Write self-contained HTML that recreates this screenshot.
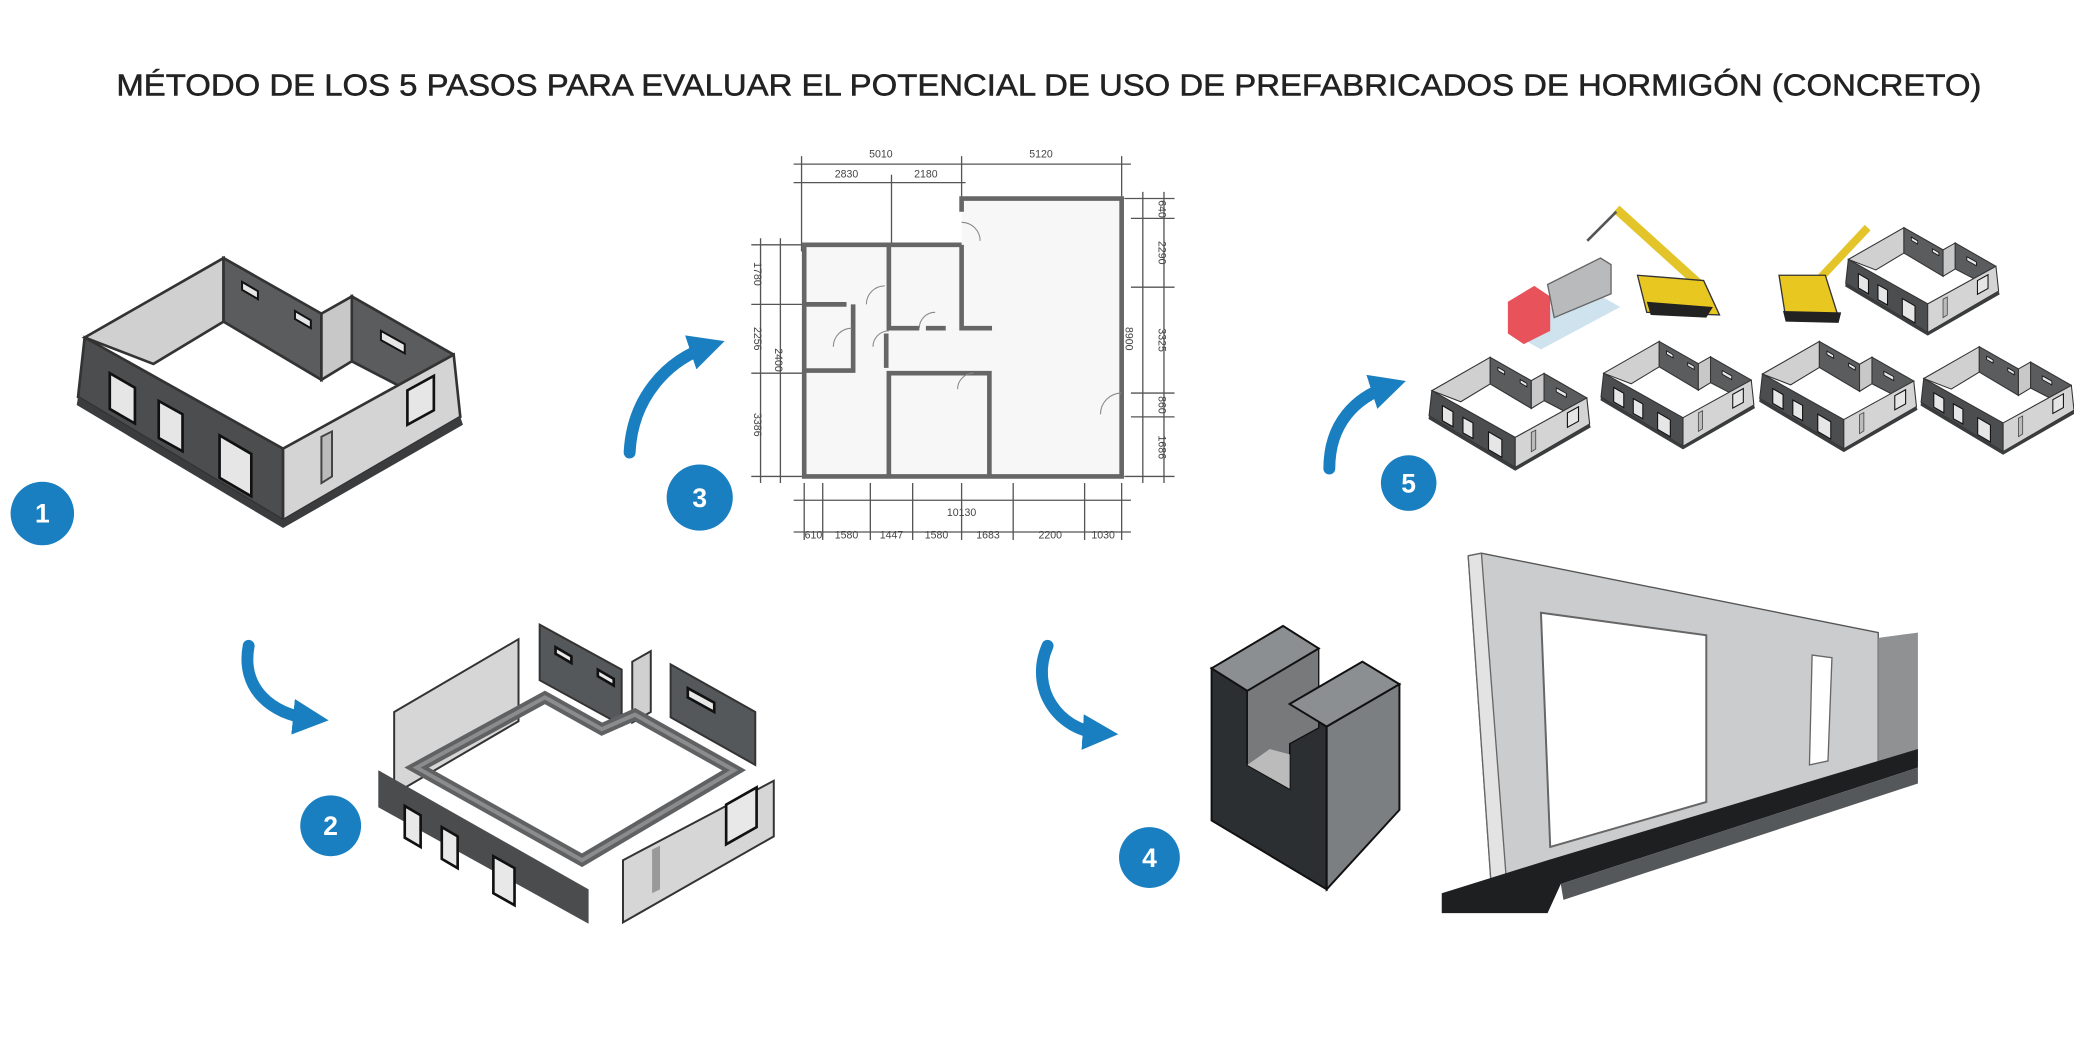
<!DOCTYPE html>
<html><head><meta charset="utf-8"><style>
html,body{margin:0;padding:0;background:#fff;}
svg{display:block;}
</style></head><body>
<svg width="2074" height="1064" viewBox="0 0 1568 804" preserveAspectRatio="none" xmlns="http://www.w3.org/2000/svg" font-family="Liberation Sans, sans-serif">
<defs>
<marker id="ah" viewBox="0 0 10 10" refX="5" refY="5" markerWidth="3" markerHeight="3" orient="auto"><path d="M0,0 L10,5 L0,10 z" fill="#1a7fc1"/></marker>
<g id="house">
  <polygon points="6,60 111,0 111,48 58,80" fill="#d0d0d0" stroke="#333" stroke-width="2"/>
  <polygon points="111,0 185,42 185,92 111,48" fill="#5a5c5e" stroke="#333" stroke-width="2"/>
  <polygon points="185,42 208,29 208,78 185,92" fill="#c8c8c8" stroke="#333" stroke-width="2"/>
  <polygon points="208,29 285,73 285,118 208,78" fill="#5a5c5e" stroke="#333" stroke-width="2"/>
  <polygon points="1,105 6,60 156,144 156,198" fill="#4b4d4f" stroke="#333" stroke-width="2"/>
  <polygon points="156,144 285,73 290,120 156,198" fill="#d4d4d4" stroke="#333" stroke-width="2"/>
  <polygon points="1,105 156,198 290,120 292,126 156,204 0,111" fill="#3a3c3d"/>
  <polygon points="25,87 44,98 44,125 25,114" fill="#e6e6e6" stroke="#111" stroke-width="2"/>
  <polygon points="62,108 80,118 80,146 62,136" fill="#e6e6e6" stroke="#111" stroke-width="2"/>
  <polygon points="108,134 132,148 132,180 108,166" fill="#e6e6e6" stroke="#111" stroke-width="2"/>
  <polygon points="185,135 193,131 193,165 185,170" fill="#bbb" stroke="#444" stroke-width="1.5"/>
  <polygon points="250,100 270,89 270,115 250,126" fill="#e6e6e6" stroke="#111" stroke-width="2"/>
  <polygon points="125,18 137,25 137,31 125,24" fill="#e6e6e6" stroke="#111" stroke-width="1.5"/>
  <polygon points="165,40 177,47 177,53 165,46" fill="#e6e6e6" stroke="#111" stroke-width="1.5"/>
  <polygon points="230,55 248,65 248,72 230,62" fill="#e6e6e6" stroke="#111" stroke-width="1.5"/>
</g>
</defs>

<text x="88" y="72" font-size="23" fill="#222" stroke="#222" stroke-width="0.4" textLength="1410" lengthAdjust="spacingAndGlyphs">MÉTODO DE LOS 5 PASOS PARA EVALUAR EL POTENCIAL DE USO DE PREFABRICADOS DE HORMIGÓN (CONCRETO)</text>

<!-- Step 1 building -->
<use href="#house" transform="translate(58,195)"/>

<!-- Step 2 exploded -->
<g stroke="#333" stroke-width="1.5">
  <polygon points="298,538 392,483 392,545 298,600" fill="#d6d6d6"/>
  <polygon points="408,472 470,506 470,548 408,514" fill="#55585a"/>
  <polygon points="478,500 492,492 492,538 478,546" fill="#d0d0d0"/>
  <polygon points="507,502 571,538 571,578 507,542" fill="#55585a"/>
  <polygon points="471,650 585,590 585,632 471,697" fill="#d6d6d6"/>
</g>
<polygon points="286,582 445,672 445,698 286,610" fill="#4a4c4e"/>
<g fill="#e8e8e8" stroke="#111" stroke-width="2">
  <polygon points="306,609 318,616 318,640 306,633"/>
  <polygon points="334,625 346,632 346,656 334,649"/>
  <polygon points="373,647 389,656 389,684 373,675"/>
  <polygon points="549,608 572,595 572,625 549,638"/>
  <polygon points="420,489 432,496 432,501 420,494"/>
  <polygon points="452,506 464,513 464,518 452,511"/>
  <polygon points="520,520 540,531 540,538 520,527"/>
</g>
<polygon points="493,642 499,639 499,672 493,675" fill="#999"/>
<path d="M315,580 L412,527 L455,551 L480,540 L555,582 L440,650 Z" fill="none" stroke="#5f6163" stroke-width="9" stroke-linejoin="miter"/>
<path d="M315,580 L412,527 L455,551 L480,540 L555,582 L440,650 Z" fill="none" stroke="#8a8c8e" stroke-width="3"/>

<!-- Step 3 floor plan -->
<g stroke="#555" stroke-width="1" fill="none">
  <line x1="600" y1="124" x2="855" y2="124"/><line x1="600" y1="138" x2="730" y2="138"/>
  <line x1="606" y1="118" x2="606" y2="190"/><line x1="727" y1="118" x2="727" y2="150"/><line x1="848" y1="118" x2="848" y2="150"/>
  <line x1="674" y1="132" x2="674" y2="185"/>
  <line x1="575" y1="180" x2="575" y2="365"/><line x1="590" y1="180" x2="590" y2="365"/>
  <line x1="568" y1="185" x2="608" y2="185"/><line x1="568" y1="230" x2="608" y2="230"/><line x1="568" y1="282" x2="608" y2="282"/><line x1="568" y1="360" x2="608" y2="360"/>
  <line x1="864" y1="145" x2="864" y2="365"/><line x1="880" y1="145" x2="880" y2="365"/>
  <line x1="850" y1="150" x2="888" y2="150"/><line x1="855" y1="165" x2="888" y2="165"/><line x1="855" y1="217" x2="888" y2="217"/><line x1="855" y1="297" x2="888" y2="297"/><line x1="855" y1="315" x2="888" y2="315"/><line x1="850" y1="360" x2="888" y2="360"/>
  <line x1="600" y1="378" x2="855" y2="378"/><line x1="600" y1="402" x2="855" y2="402"/>
  <line x1="608" y1="365" x2="608" y2="408"/><line x1="622" y1="365" x2="622" y2="408"/><line x1="658" y1="365" x2="658" y2="408"/><line x1="690" y1="365" x2="690" y2="408"/><line x1="727" y1="365" x2="727" y2="408"/><line x1="766" y1="365" x2="766" y2="408"/><line x1="820" y1="365" x2="820" y2="408"/><line x1="848" y1="365" x2="848" y2="408"/>
</g>
<g fill="#f7f7f7" stroke="none"><rect x="608" y="185" width="120" height="175"/><rect x="727" y="150" width="121" height="210"/></g>
<g stroke="#666" stroke-width="3.5" fill="none">
  <path d="M727,160 L727,150 L848,150 L848,360 L608,360 L608,185 L727,185"/>
  <path d="M727,185 L727,248 L750,248"/>
  <path d="M672,185 L672,248 L695,248"/><line x1="700" y1="248" x2="715" y2="248"/>
  <path d="M608,230 L640,230"/><path d="M645,230 L645,280 L608,280"/>
  <path d="M672,360 L672,282 L748,282 L748,360"/>
  <line x1="670" y1="252" x2="670" y2="278"/>
</g>
<g stroke="#888" stroke-width="0.8" fill="none">
  <path d="M727,168 A14,14 0 0 1 741,182"/><path d="M655,230 A14,14 0 0 1 669,216"/><path d="M630,262 A14,14 0 0 1 644,248"/>
  <path d="M695,248 A12,12 0 0 1 707,236"/><path d="M660,262 A12,12 0 0 1 672,250"/><path d="M736,282 A12,12 0 0 0 724,294"/><path d="M848,297 A16,16 0 0 0 832,313"/>
</g>
<g font-size="8" fill="#444" text-anchor="middle">
  <text x="666" y="119">5010</text><text x="787" y="119">5120</text>
  <text x="640" y="134">2830</text><text x="700" y="134">2180</text>
  <text x="727" y="390">10130</text>
  <text x="615" y="407">610</text><text x="640" y="407">1580</text><text x="674" y="407">1447</text><text x="708" y="407">1580</text><text x="747" y="407">1683</text><text x="794" y="407">2200</text><text x="834" y="407">1030</text>
  <text transform="translate(570,207) rotate(90)">1780</text><text transform="translate(570,256) rotate(90)">2256</text><text transform="translate(570,321) rotate(90)">3386</text><text transform="translate(586,272) rotate(90)">2400</text>
  <text transform="translate(876,158) rotate(90)">640</text><text transform="translate(876,191) rotate(90)">2290</text><text transform="translate(876,257) rotate(90)">3325</text><text transform="translate(876,306) rotate(90)">860</text><text transform="translate(876,338) rotate(90)">1686</text><text transform="translate(851,256) rotate(90)">8900</text>
</g>

<!-- Step 4 block -->
<polygon points="916,505 943,522 943,578 975,596 975,532 1003,549 1003,672 916,620" fill="#2b2f31" stroke="#111" stroke-width="1.5"/>
<polygon points="943,522 997,490 997,550 975,562 975,596 943,578" fill="#77797b" stroke="#111" stroke-width="1"/>
<polygon points="943,578 975,596 975,570 960,566" fill="#bbb"/>
<polygon points="1003,549 1058,517 1058,612 1003,672" fill="#7c7f81" stroke="#111" stroke-width="1.5"/>
<polygon points="916,505 970,473 997,490 943,522" fill="#8c8f91" stroke="#111" stroke-width="1.5"/>
<polygon points="975,532 1030,500 1058,517 1003,549" fill="#8c8f91" stroke="#111" stroke-width="1.5"/>

<!-- Step 4 wall -->
<polygon points="1110,420 1120,418 1420,478 1420,585 1140,680 1128,678" fill="#cbcccd" stroke="#555" stroke-width="1"/>
<polygon points="1110,420 1120,418 1140,680 1128,678" fill="#e3e3e3" stroke="#666" stroke-width="1"/>
<polygon points="1165,463 1290,480 1290,606 1172,640" fill="#fff" stroke="#666" stroke-width="1.5"/>
<polygon points="1370,495 1385,497 1382,575 1368,578" fill="#fff" stroke="#666" stroke-width="1"/>
<polygon points="1420,482 1450,478 1450,575 1420,585" fill="#8f9193"/>
<polygon points="1090,675 1170,650 1450,566 1450,580 1180,668 1170,690 1090,690" fill="#1d1f20"/>
<polygon points="1180,668 1450,580 1450,592 1182,680" fill="#55585a"/>

<!-- Step 5 -->
<g transform="translate(1080,270) scale(0.42)"><use href="#house"/></g>
<g transform="translate(1210,258) scale(0.40)"><use href="#house"/></g>
<g transform="translate(1330,258) scale(0.41)"><use href="#house"/></g>
<g transform="translate(1452,262) scale(0.40)"><use href="#house"/></g>
<g transform="translate(1395,172) scale(0.4)"><use href="#house"/></g>
<polygon points="1140,250 1200,218 1225,232 1165,264" fill="#cfe3ef"/>
<polygon points="1140,228 1160,216 1172,224 1172,250 1152,260 1140,252" fill="#e8525a"/>
<polygon points="1170,215 1210,195 1218,200 1218,222 1175,240" fill="#b8babc" stroke="#666" stroke-width="1"/>
<path d="M1222,158 L1285,215" stroke="#e3c52a" stroke-width="7"/>
<path d="M1200,182 L1222,160" stroke="#555" stroke-width="2"/>
<polygon points="1238,208 1288,212 1300,238 1245,236" fill="#e8c720" stroke="#333" stroke-width="1"/>
<polygon points="1245,228 1295,232 1290,240 1248,238" fill="#222"/>
<path d="M1365,222 L1412,172" stroke="#e3c52a" stroke-width="6"/>
<polygon points="1345,208 1380,208 1390,240 1350,240" fill="#e8c720" stroke="#333" stroke-width="1"/>
<polygon points="1348,235 1392,236 1390,244 1350,243" fill="#222"/>

<!-- Blue curved arrows -->
<g fill="none" stroke="#1a7fc1" stroke-width="9" stroke-linecap="round">
  <path d="M476,342 C478,300 505,272 535,262" marker-end="url(#ah)"/>
  <path d="M1005,354 C1005,320 1025,300 1050,292" marker-end="url(#ah)"/>
  <path d="M188,488 C182,520 205,540 235,543" marker-end="url(#ah)"/>
  <path d="M792,488 C778,520 800,552 832,554" marker-end="url(#ah)"/>
</g>

<!-- Number circles -->
<g fill="#1a7fc1"><circle cx="32" cy="388" r="24"/><circle cx="250" cy="624" r="23"/><circle cx="529" cy="376" r="25"/><circle cx="869" cy="648" r="23"/><circle cx="1065" cy="365" r="21"/></g>
<g fill="#fff" font-size="20" font-weight="bold" text-anchor="middle">
  <text x="32" y="395">1</text><text x="250" y="631">2</text><text x="529" y="383">3</text><text x="869" y="655">4</text><text x="1065" y="372">5</text>
</g>
</svg>
</body></html>
